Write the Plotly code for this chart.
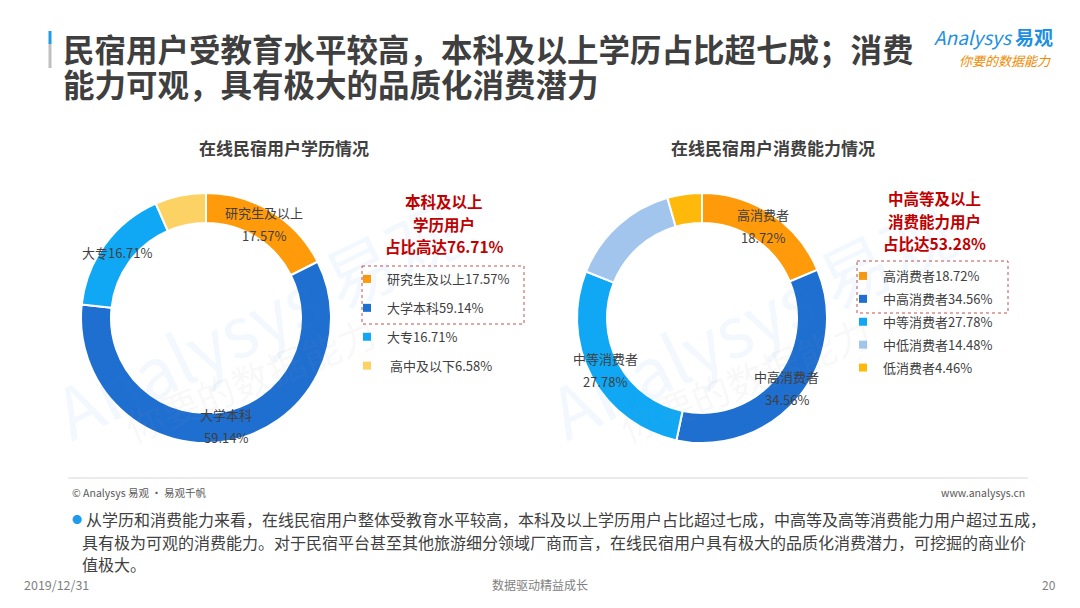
import math
import plotly.graph_objects as go

# ---------------- data ----------------
edu_labels = ["研究生及以上", "大学本科", "大专", "高中及以下"]
edu_values = [17.57, 59.14, 16.71, 6.58]
edu_colors = ["#FF9A0A", "#1F6FD1", "#10A8F4", "#FBD263"]

spend_labels = ["高消费者", "中高消费者", "中等消费者", "中低消费者", "低消费者"]
spend_values = [18.72, 34.56, 27.78, 14.48, 4.46]
spend_colors = ["#FF9A0A", "#1F6FD1", "#10A8F4", "#A2C5EE", "#FFB90A"]

edu_highlight = ["本科及以上", "学历用户", "占比高达76.71%"]
spend_highlight = ["中高等及以上", "消费能力用户", "占比达53.28%"]

title_lines = ["民宿用户受教育水平较高，本科及以上学历占比超七成；消费",
               "能力可观，具有极大的品质化消费潜力"]
note_lines = ["从学历和消费能力来看，在线民宿用户整体受教育水平较高，本科及以上学历用户占比超过七成，中高等及高等消费能力用户超过五成，",
              "具有极为可观的消费能力。对于民宿平台甚至其他旅游细分领域厂商而言，在线民宿用户具有极大的品质化消费潜力，可挖掘的商业价",
              "值极大。"]

FONT = "Noto Sans CJK SC"
W, H = 1080, 608


def px(x):
    return x / W


def py(y):
    return 1 - y / H


def ann(x, y, text, size, color, xanchor="center", bold=False, **kw):
    t = f"<b>{text}</b>" if bold else text
    d = dict(x=px(x), y=py(y), xref="paper", yref="paper", xanchor=xanchor,
             yanchor="middle", text=t, showarrow=False,
             font=dict(size=size, color=color, family=FONT))
    d.update(kw)
    return d


# slice-label layout: (show label, two lines)
edu_label_style = [(True, True), (True, True), (True, False), (False, False)]
spend_label_style = [(True, True), (True, True), (True, True), (False, False), (False, False)]

# pie geometry (pixels)
LEFT_C = (206, 318)
RIGHT_C = (702, 318)
R_OUT = 125
HOLE = 0.76
R_MID = R_OUT * (1 + HOLE) / 2

fig = go.Figure()

pie_common = dict(
    hole=HOLE, sort=False, direction="clockwise", rotation=0,
    textinfo="none", showlegend=False, hoverinfo="label+percent",
)

fig.add_trace(go.Pie(
    labels=edu_labels, values=edu_values,
    marker=dict(colors=edu_colors, line=dict(color="white", width=2)),
    domain=dict(x=[px(LEFT_C[0] - R_OUT), px(LEFT_C[0] + R_OUT)],
                y=[py(LEFT_C[1] + R_OUT), py(LEFT_C[1] - R_OUT)]),
    **pie_common))

fig.add_trace(go.Pie(
    labels=spend_labels, values=spend_values,
    marker=dict(colors=spend_colors, line=dict(color="white", width=2)),
    domain=dict(x=[px(RIGHT_C[0] - R_OUT), px(RIGHT_C[0] + R_OUT)],
                y=[py(RIGHT_C[1] + R_OUT), py(RIGHT_C[1] - R_OUT)]),
    **pie_common))

# legend entries
for i, (lab, val, col) in enumerate(zip(edu_labels, edu_values, edu_colors)):
    name = f"{lab}{val:.2f}%"
    if i == 3:
        name = " " + name
    fig.add_trace(go.Scatter(x=[None], y=[None], mode="markers", name=name,
                             marker=dict(symbol="square", size=8, color=col),
                             legend="legend", legendgroup=f"e{i}", hoverinfo="skip"))
for i, (lab, val, col) in enumerate(zip(spend_labels, spend_values, spend_colors)):
    fig.add_trace(go.Scatter(x=[None], y=[None], mode="markers", name=f"{lab}{val:.2f}%",
                             marker=dict(symbol="square", size=8, color=col),
                             legend="legend2", legendgroup=f"s{i}", hoverinfo="skip"))

legend_common = dict(
    font=dict(size=13, color="#404040", family=FONT),
    bgcolor="rgba(0,0,0,0)", borderwidth=0,
    xanchor="left", yanchor="top", traceorder="grouped",
    itemclick=False, itemdoubleclick=False,
)

annotations = []

# watermark (very faint)
for cx in (0, 495):
    annotations.append(ann(255 + cx, 318, "Analysys 易观", 70, "rgba(40,140,215,0.06)", textangle=-26))
    annotations.append(ann(250 + cx, 378, "你要的数据能力", 38, "rgba(150,150,150,0.07)", textangle=-22))


# slice labels placed at the middle of each ring segment
def slice_labels(labels, values, styles, center):
    total = sum(values)
    cum = 0.0
    out = []
    for lab, val, (show, two) in zip(labels, values, styles):
        mid = (cum + val / 2) / total * 2 * math.pi
        cum += val
        if not show:
            continue
        x = center[0] + R_MID * math.sin(mid)
        y = center[1] - R_MID * math.cos(mid)
        if two:
            out.append(ann(x, y - 11.5, lab, 13, "#404040"))
            out.append(ann(x, y + 11.5, f"{val:.2f}%", 13, "#404040"))
        else:
            out.append(ann(x, y, f"{lab}{val:.2f}%", 13, "#404040"))
    return out


annotations += slice_labels(edu_labels, edu_values, edu_label_style, LEFT_C)
annotations += slice_labels(spend_labels, spend_values, spend_label_style, RIGHT_C)

# main title: line spacing from the 27px base size (35px), glyphs drawn at 31.5px
title_html = "<br>".join(f'<span style="font-size:31.5px"><b>{l}</b></span>' for l in title_lines)
annotations.append(ann(61, 65.5, title_html, 27, "#3F3F3F", xanchor="left", align="left"))

# logo
annotations.append(ann(1055, 37, "<i>Analysys</i> <b>易观</b>", 19, "#1E8FE1", xanchor="right"))
annotations.append(ann(1053, 60, "<i>你要的数据能力</i>", 13, "#F08A00", xanchor="right"))

# chart subtitles
annotations.append(ann(284, 147, "在线民宿用户学历情况", 17, "#404040", bold=True))
annotations.append(ann(773, 147, "在线民宿用户消费能力情况", 17, "#404040", bold=True))

# red highlight texts
for i, line in enumerate(edu_highlight):
    annotations.append(ann(444, 201 + 22.5 * i, line, 15.5, "#C00000", bold=True))
for i, line in enumerate(spend_highlight):
    annotations.append(ann(934, 198 + 22.5 * i, line, 15.5, "#C00000", bold=True))

# footer
annotations.append(ann(70, 492, "© Analysys 易观 · 易观千帆", 10.5, "#595959", xanchor="left"))
annotations.append(ann(1027, 492, "www.analysys.cn", 10.5, "#595959", xanchor="right"))
annotations.append(ann(77, 519, "●", 10, "#1E9BEB"))
for i, line in enumerate(note_lines):
    annotations.append(ann(84 if i == 0 else 80, 519 + 22.5 * i, line, 16, "#404040", xanchor="left"))
annotations.append(ann(22, 584, "2019/12/31", 12.5, "#7F7F7F", xanchor="left"))
annotations.append(ann(540, 584, "数据驱动精益成长", 12, "#7F7F7F"))
annotations.append(ann(1058, 584, "20", 12, "#7F7F7F", xanchor="right"))

shapes = [
    # title accent bar
    dict(type="line", xref="paper", yref="paper", x0=px(50), x1=px(50), y0=py(31), y1=py(44),
         line=dict(color="#1E9BEB", width=3)),
    dict(type="line", xref="paper", yref="paper", x0=px(50), x1=px(50), y0=py(44), y1=py(68),
         line=dict(color="#BFBFBF", width=3)),
    # dashed highlight boxes
    dict(type="rect", xref="paper", yref="paper", x0=px(362), x1=px(524), y0=py(266), y1=py(324),
         line=dict(color="#C0504D", width=1, dash="dot")),
    dict(type="rect", xref="paper", yref="paper", x0=px(857), x1=px(1008), y0=py(261), y1=py(313),
         line=dict(color="#C0504D", width=1, dash="dot")),
    # footer rule
    dict(type="line", xref="paper", yref="paper", x0=px(68), x1=px(1028), y0=py(478), y1=py(478),
         line=dict(color="#D9D9D9", width=1)),
]

fig.update_layout(
    width=W, height=H,
    margin=dict(l=0, r=0, t=0, b=0),
    paper_bgcolor="white", plot_bgcolor="white",
    font=dict(family=FONT, color="#404040"),
    xaxis=dict(visible=False), yaxis=dict(visible=False),
    legend=dict(x=px(347), y=py(264), tracegroupgap=9, **legend_common),
    legend2=dict(x=px(843), y=py(261), tracegroupgap=3, **legend_common),
    annotations=annotations,
    shapes=shapes,
)

fig.write_html("out.html", config={"displayModeBar": False},
               post_script="document.body.style.margin='0px';document.body.style.overflow='hidden';")
